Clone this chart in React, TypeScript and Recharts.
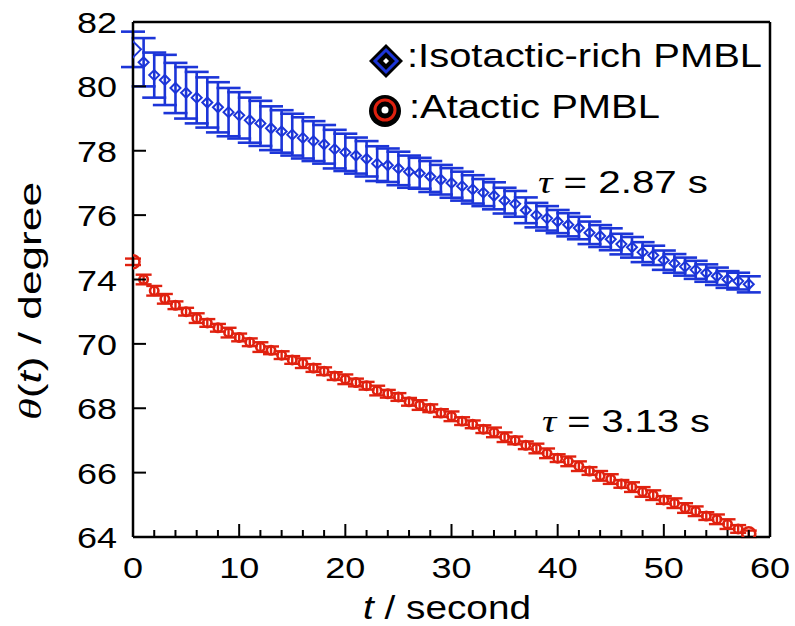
import { ComposedChart, ErrorBar, ReferenceLine, Scatter, XAxis, YAxis } from "recharts";

const BLUE = "#1c35d8";
const RED = "#e0210f";
const FONT = "'Liberation Sans', Arial, Helvetica, sans-serif";
const SERIF = "'Liberation Serif', 'Times New Roman', serif";

// time in seconds
const times = [
  0, 1, 2, 3, 4, 5, 6, 7, 8, 9, 10, 11, 12, 13, 14, 15, 16, 17, 18, 19, 20, 21, 22, 23, 24, 25, 26, 27, 28, 29,
  30, 31, 32, 33, 34, 35, 36, 37, 38, 39, 40, 41, 42, 43, 44, 45, 46, 47, 48, 49, 50, 51, 52, 53, 54, 55, 56, 57, 58,
];

// isotactic-rich PMBL, theta(t) in degree
const isoValues = [
  81.15, 80.75, 80.35, 80.2, 79.95, 79.8, 79.65, 79.5, 79.35, 79.2, 79.1, 78.95, 78.85, 78.7, 78.6, 78.5, 78.4,
  78.3, 78.2, 78.05, 77.95, 77.85, 77.75, 77.6, 77.55, 77.45, 77.35, 77.3, 77.2, 77.1, 77.0, 76.9, 76.8, 76.7,
  76.6, 76.45, 76.35, 76.15, 76.0, 75.9, 75.8, 75.7, 75.6, 75.45, 75.35, 75.25, 75.1, 75.0, 74.85, 74.75, 74.6,
  74.5, 74.4, 74.3, 74.2, 74.1, 74.0, 73.95, 73.85,
];
const isoErrors = [
  0.55, 0.75, 0.7, 0.78, 0.78, 0.8, 0.8, 0.78, 0.78, 0.75, 0.72, 0.7, 0.7, 0.68, 0.66, 0.65, 0.64, 0.62, 0.6,
  0.6, 0.58, 0.56, 0.55, 0.54, 0.52, 0.52, 0.5, 0.48, 0.48, 0.46, 0.46, 0.45, 0.44, 0.42, 0.42, 0.4, 0.4, 0.4,
  0.38, 0.38, 0.36, 0.36, 0.35, 0.35, 0.34, 0.34, 0.32, 0.32, 0.31, 0.3, 0.3, 0.29, 0.28, 0.28, 0.27, 0.27,
  0.26, 0.26, 0.25,
];

// atactic PMBL
const ataValues = [
  74.55, 74.0, 73.65, 73.4, 73.2, 73.0, 72.8, 72.65, 72.5, 72.35, 72.2, 72.05, 71.9, 71.8, 71.65, 71.5, 71.4,
  71.25, 71.15, 71.0, 70.9, 70.8, 70.7, 70.55, 70.45, 70.35, 70.2, 70.1, 70.0, 69.85, 69.75, 69.6, 69.5, 69.35,
  69.25, 69.1, 69.0, 68.85, 68.75, 68.6, 68.45, 68.35, 68.2, 68.05, 67.9, 67.8, 67.65, 67.55, 67.4, 67.3, 67.15,
  67.05, 66.9, 66.8, 66.65, 66.55, 66.4, 66.25, 66.1,
];
const ataErrors = [
  0.1, 0.15, 0.15, 0.15, 0.12, 0.12, 0.15, 0.12, 0.12, 0.15, 0.12, 0.12, 0.15, 0.12, 0.12, 0.12, 0.15, 0.12,
  0.12, 0.12, 0.15, 0.12, 0.12, 0.15, 0.12, 0.12, 0.12, 0.15, 0.12, 0.12, 0.15, 0.12, 0.12, 0.12, 0.15, 0.15,
  0.12, 0.12, 0.15, 0.15, 0.12, 0.15, 0.15, 0.12, 0.15, 0.15, 0.12, 0.15, 0.15, 0.15, 0.12, 0.15, 0.15, 0.15,
  0.12, 0.15, 0.15, 0.12, 0.1,
];

const xTicks = [0, 2, 4, 6, 8, 10, 12, 14, 16, 18, 20, 22, 24, 26, 28, 30, 32, 34, 36, 38, 40, 42, 44, 46, 48, 50, 52, 54, 56, 58, 60];
const xMajor = [0, 10, 20, 30, 40, 50, 60];
// the figure labels its y ticks like this (74 is followed by 70)
const yTicks = [66, 68, 70, 72, 74, 76, 78, 80, 82];
const yTickLabels = ["64", "66", "68", "70", "74", "76", "78", "80", "82"];

const isoData = times.map((t, i) => ({ t, v: isoValues[i], e: isoErrors[i] }));
const ataData = times.map((t, i) => ({ t, v: ataValues[i], e: ataErrors[i] }));

const XTick = (props: any) => {
  const { x, y, payload } = props;
  const major = xMajor.includes(payload.value);
  return (
    <g>
      <line x1={x} x2={x} y1={y} y2={y - (major ? 13 : 7)} stroke="#000" strokeWidth={2} />
      {major && (
        <text
          transform={`translate(${x},${y + 41}) scale(1.2,1)`}
          textAnchor="middle"
          fontSize={30}
          fontFamily={FONT}
          fill="#000"
        >
          {payload.value}
        </text>
      )}
    </g>
  );
};

const YTick = (props: any) => {
  const { x, y, payload } = props;
  const label = yTickLabels[yTicks.indexOf(payload.value)];
  return (
    <g>
      <line x1={x} x2={x + 13} y1={y} y2={y} stroke="#000" strokeWidth={2} />
      <text
        transform={`translate(${x - 16},${y + 11}) scale(1.2,1)`}
        textAnchor="end"
        fontSize={30}
        fontFamily={FONT}
        fill="#000"
      >
        {label}
      </text>
    </g>
  );
};

const Diamond = (props: any) => {
  const { cx, cy, payload } = props;
  const r = payload.t === 0 ? 8 : 5;
  return (
    <path
      d={`M${cx},${cy - r}L${cx + r},${cy}L${cx},${cy + r}L${cx - r},${cy}Z`}
      fill="none"
      stroke={BLUE}
      strokeWidth={2}
    />
  );
};

const Ring = (props: any) => {
  const { cx, cy, payload } = props;
  const big = payload.t === 0 || payload.t === 58;
  return <circle cx={cx} cy={cy} r={big ? 6.5 : 4.2} fill="none" stroke={RED} strokeWidth={2.6} />;
};

const Overlay = () => (
  <svg width={795} height={626} style={{ position: "absolute", left: 0, top: 0, pointerEvents: "none" }}>
    {/* legend */}
    <path d="M386,44L403,61L386,78L369,61Z" fill="#000" />
    <path d="M386,50L397,61L386,72L375,61Z" fill="#000" stroke={BLUE} strokeWidth={3} />
    <path d="M386,58L389,61L386,64L383,61Z" fill="#fff" />
    <text x={407} y={67} fontSize={34} fontFamily={FONT} textLength={355} lengthAdjust="spacingAndGlyphs">
      :Isotactic-rich PMBL
    </text>
    <circle cx={385} cy={111} r={16} fill="#000" />
    <circle cx={385} cy={110} r={10} fill="#000" stroke={RED} strokeWidth={3} />
    <circle cx={385} cy={110} r={3.5} fill="#fff" />
    <text x={409} y={118} fontSize={34} fontFamily={FONT} textLength={251} lengthAdjust="spacingAndGlyphs">
      :Atactic PMBL
    </text>

    {/* time constants */}
    <text x={538} y={193} fontSize={32} fontFamily={FONT} textLength={170} lengthAdjust="spacingAndGlyphs">
      <tspan fontFamily={SERIF} fontStyle="italic">τ</tspan> = 2.87 s
    </text>
    <text x={542} y={432} fontSize={32} fontFamily={FONT} textLength={168} lengthAdjust="spacingAndGlyphs">
      <tspan fontFamily={SERIF} fontStyle="italic">τ</tspan> = 3.13 s
    </text>

    {/* axis titles */}
    <text x={363} y={619} fontSize={33} fontFamily={FONT} textLength={168} lengthAdjust="spacingAndGlyphs">
      <tspan fontStyle="italic">t</tspan> / second
    </text>
    <text
      transform="translate(41,420) rotate(-90)"
      fontSize={32}
      fontFamily={FONT}
      textLength={238}
      lengthAdjust="spacingAndGlyphs"
    >
      <tspan fontFamily={SERIF} fontStyle="italic">θ</tspan>(<tspan fontStyle="italic">t</tspan>) / degree
    </text>
  </svg>
);

export default function App() {
  return (
    <div style={{ position: "absolute", left: 0, top: 0, width: 795, height: 626, background: "#fff" }}>
      <ComposedChart width={795} height={626} margin={{ top: 22, right: 25, bottom: 29, left: 73 }}>
        <XAxis
          dataKey="t"
          type="number"
          domain={[0, 60]}
          ticks={xTicks}
          interval={0}
          height={60}
          tickSize={0}
          tickMargin={0}
          tickLine={false}
          axisLine={{ stroke: "#000", strokeWidth: 2.5 }}
          tick={<XTick />}
          allowDataOverflow
        />
        <YAxis
          type="number"
          domain={[66, 82]}
          ticks={yTicks}
          interval={0}
          width={60}
          tickSize={0}
          tickMargin={0}
          tickLine={false}
          axisLine={{ stroke: "#000", strokeWidth: 2.5 }}
          tick={<YTick />}
          allowDataOverflow
        />
        <ReferenceLine y={82} stroke="#000" strokeWidth={2.5} />
        <ReferenceLine x={60} stroke="#000" strokeWidth={2.5} />
        <Scatter data={ataData} dataKey="v" shape={<Ring />} isAnimationActive={false}>
          <ErrorBar dataKey="e" direction="y" width={8} stroke={RED} strokeWidth={2.4} />
        </Scatter>
        <Scatter data={isoData} dataKey="v" shape={<Diamond />} isAnimationActive={false}>
          <ErrorBar dataKey="e" direction="y" width={12} stroke={BLUE} strokeWidth={2.6} />
        </Scatter>
      </ComposedChart>
      <Overlay />
    </div>
  );
}
